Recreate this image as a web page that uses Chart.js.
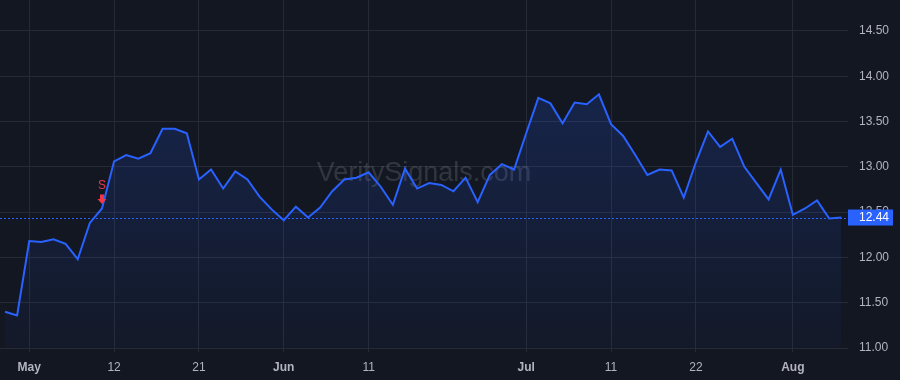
<!DOCTYPE html>
<html>
<head>
<meta charset="utf-8">
<style>
  html, body { margin: 0; padding: 0; background: #131722; }
  canvas { display: block; }
</style>
</head>
<body>
<canvas id="priceChart" width="900" height="380"></canvas>

<script src="https://cdn.jsdelivr.net/npm/chart.js"></script>
<script>
// Dias de negociação (Abr 29 - Ago 7)
const dates = [
  '2025-04-29', '2025-04-30',
  '2025-05-01', '2025-05-02', '2025-05-05', '2025-05-06', '2025-05-07', '2025-05-08', '2025-05-09',
  '2025-05-12', '2025-05-13', '2025-05-14', '2025-05-15', '2025-05-16', '2025-05-19', '2025-05-20',
  '2025-05-21', '2025-05-22', '2025-05-23', '2025-05-27', '2025-05-28', '2025-05-29', '2025-05-30',
  '2025-06-02', '2025-06-03', '2025-06-04', '2025-06-05', '2025-06-06', '2025-06-09', '2025-06-10',
  '2025-06-11', '2025-06-12', '2025-06-13', '2025-06-16', '2025-06-17', '2025-06-18', '2025-06-20',
  '2025-06-23', '2025-06-24', '2025-06-25', '2025-06-26', '2025-06-27', '2025-06-30',
  '2025-07-01', '2025-07-02', '2025-07-03', '2025-07-07', '2025-07-08', '2025-07-09', '2025-07-10',
  '2025-07-11', '2025-07-14', '2025-07-15', '2025-07-16', '2025-07-17', '2025-07-18', '2025-07-21',
  '2025-07-22', '2025-07-23', '2025-07-24', '2025-07-25', '2025-07-28', '2025-07-29', '2025-07-30',
  '2025-07-31', '2025-08-01', '2025-08-04', '2025-08-05', '2025-08-06', '2025-08-07'
];

const prices = [
  11.40, 11.36,
  12.18, 12.17, 12.20, 12.15, 11.98, 12.38, 12.54,
  13.06, 13.13, 13.09, 13.15, 13.42, 13.42, 13.37,
  12.86, 12.97, 12.76, 12.95, 12.86, 12.67, 12.53,
  12.41, 12.56, 12.44, 12.55, 12.73, 12.86, 12.88,
  12.94, 12.78, 12.58, 12.98, 12.76, 12.82, 12.80,
  12.73, 12.88, 12.61, 12.91, 13.03, 12.97,
  13.37, 13.76, 13.70, 13.48, 13.71, 13.69, 13.80,
  13.47, 13.34, 13.13, 12.91, 12.97, 12.96, 12.66,
  13.05, 13.39, 13.22, 13.31, 13.00, 12.82, 12.64,
  12.97, 12.47, 12.54, 12.63, 12.43, 12.44
];

const tickDates = ['2025-05-01', '2025-05-12', '2025-05-21', '2025-06-02', '2025-06-11', '2025-07-01', '2025-07-11', '2025-07-22', '2025-08-01'];
const tickLabels = ['May', '12', '21', 'Jun', '11', 'Jul', '11', '22', 'Aug'];
const priceTicks = [11.0, 11.5, 12.0, 12.5, 13.0, 13.5, 14.0, 14.5];

const signalDates = ['2025-05-09'];
const signalLabels = ['S'];

const tickIdx = tickDates.map(d => dates.indexOf(d));
const FONT = '"Liberation Sans", Arial, sans-serif';
const BLUE = '#2962ff';
const RED = '#f23645';

function noPad(scale) {
  scale.paddingTop = 0; scale.paddingBottom = 0;
  scale.paddingLeft = 0; scale.paddingRight = 0;
}

function isMonthTick(c) {
  if (!c || !c.tick) return false;
  return isNaN(tickLabels[tickIdx.indexOf(c.tick.value)]);
}

// Marca d'água, linha do último preço, sinal e etiqueta
const overlay = {
  id: 'overlay',
  beforeDatasetsDraw(chart) {
    const { ctx, chartArea: a, scales: { y } } = chart;
    ctx.save();
    ctx.font = '27px ' + FONT;
    ctx.fillStyle = 'rgba(255,255,255,0.13)';
    ctx.textAlign = 'center';
    ctx.textBaseline = 'middle';
    ctx.fillText('VeritySignals.com', (a.left + a.right) / 2, (a.top + a.bottom) / 2);

    const last = prices[prices.length - 1];
    const py = Math.round(y.getPixelForValue(last)) + 0.5;
    ctx.strokeStyle = BLUE;
    ctx.lineWidth = 1;
    ctx.setLineDash([2, 2]);
    ctx.beginPath();
    ctx.moveTo(a.left, py);
    ctx.lineTo(a.right, py);
    ctx.stroke();
    ctx.restore();
  },
  afterDraw(chart) {
    const { ctx, chartArea: a, scales: { x, y } } = chart;
    ctx.save();
    // sinais
    signalDates.forEach((d, k) => {
      const i = dates.indexOf(d);
      const sx = x.getPixelForValue(i);
      const sy = y.getPixelForValue(prices[i]);
      ctx.fillStyle = RED;
      ctx.fillRect(sx - 2, sy - 14, 4, 5);
      ctx.beginPath();
      ctx.moveTo(sx - 4.5, sy - 9.5);
      ctx.lineTo(sx + 4.5, sy - 9.5);
      ctx.lineTo(sx, sy - 4.5);
      ctx.closePath();
      ctx.fill();
      ctx.font = '12px ' + FONT;
      ctx.textAlign = 'center';
      ctx.textBaseline = 'middle';
      ctx.fillText(signalLabels[k], sx, sy - 23);
    });
    // etiqueta do último preço
    const last = prices[prices.length - 1];
    const py = y.getPixelForValue(last);
    ctx.fillStyle = BLUE;
    ctx.fillRect(a.right, py - 8, 45, 16);
    ctx.fillStyle = '#ffffff';
    ctx.font = '12px ' + FONT;
    ctx.textAlign = 'left';
    ctx.textBaseline = 'middle';
    ctx.fillText(last.toFixed(2), a.right + 11, py + 0.5);
    ctx.restore();
  }
};

const ctx = document.getElementById('priceChart').getContext('2d');
new Chart(ctx, {
  type: 'line',
  data: {
    datasets: [{
      data: prices.map((p, i) => ({ x: i, y: p })),
      borderColor: BLUE,
      borderWidth: 2,
      pointRadius: 0,
      tension: 0,
      fill: 'start',
      backgroundColor: (c) => {
        const a = c.chart.chartArea;
        if (!a) return 'rgba(41,98,255,0.15)';
        const g = c.chart.ctx.createLinearGradient(0, a.top, 0, a.bottom);
        g.addColorStop(0, 'rgba(41,98,255,0.24)');
        g.addColorStop(1, 'rgba(41,98,255,0.03)');
        return g;
      }
    }]
  },
  options: {
    responsive: false,
    animation: false,
    layout: { padding: 0 },
    plugins: { legend: { display: false }, tooltip: { enabled: false } },
    scales: {
      x: {
        type: 'linear',
        min: -0.4125,
        max: 69.55,
        afterBuildTicks: s => { s.ticks = tickIdx.map(v => ({ value: v })); },
        afterFit: s => { s.height = 32; noPad(s); },
        border: { display: false },
        grid: { color: '#262a35', tickLength: 4 },
        ticks: {
          autoSkip: false,
          maxRotation: 0,
          padding: 8,
          color: '#b2b5be',
          font: c => ({ family: FONT, size: 12, weight: isMonthTick(c) ? 'bold' : 'normal' }),
          callback: v => tickLabels[tickIdx.indexOf(v)]
        }
      },
      y: {
        position: 'right',
        min: 11,
        max: 11 + 348 / 90.6,
        afterBuildTicks: s => { s.ticks = priceTicks.map(v => ({ value: v })); },
        afterFit: s => { s.width = 52; noPad(s); },
        border: { display: false },
        grid: { color: '#262a35', drawTicks: false },
        ticks: {
          padding: 11,
          color: '#b2b5be',
          font: { family: FONT, size: 12 },
          callback: v => v.toFixed(2)
        }
      }
    }
  },
  plugins: [overlay]
});
</script>
</body>
</html>
